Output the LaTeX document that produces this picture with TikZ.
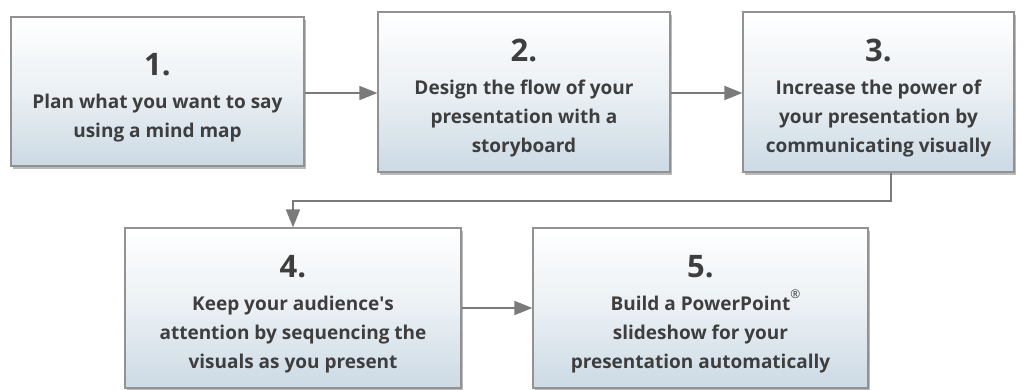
\documentclass[tikz,border=0pt]{standalone}
\usepackage{fontspec}
\setmainfont{Open Sans}
\usetikzlibrary{shadows,arrows.meta,positioning}
\definecolor{boxline}{HTML}{929292}
\definecolor{boxbot}{HTML}{CCDAE4}
\definecolor{txt}{HTML}{3E3E3E}
\definecolor{arr}{HTML}{7A7A7A}
\tikzset{
  stepbox/.style={draw=boxline, line width=1.2pt, rectangle, inner sep=0pt,
    top color=white, bottom color=boxbot, middle color=white!60!boxbot,
    drop shadow={shadow xshift=2pt, shadow yshift=-3pt, fill=black!45, opacity=0.6},
    align=center, text=txt, font=\bfseries\fontsize{19}{29}\selectfont},
  conn/.style={draw=arr, line width=1.6pt, -{Triangle[length=18pt,width=14pt]}}
}
\newcommand{\nm}[1]{{\fontsize{31}{32}\selectfont\rule{0pt}{34pt}#1}\\[4pt]}
\begin{document}
\begin{tikzpicture}[x=1pt,y=-1pt]
\useasboundingbox (0,0) rectangle (1029,390);
\node[stepbox, minimum width=293pt, minimum height=149pt] (b1) at (157.5,91.5) {\nm{1.}Plan what you want to say\\using a mind map};
\node[stepbox, minimum width=292pt, minimum height=160pt] (b2) at (524,92) {\nm{2.}Design the flow of your\\presentation with a\\storyboard};
\node[stepbox, minimum width=271pt, minimum height=160pt] (b3) at (878.5,92) {\nm{3.}Increase the power of\\your presentation by\\communicating visually};
\node[stepbox, minimum width=336pt, minimum height=160pt] (b4) at (293,308) {\nm{4.}Keep your audience\textquotesingle s\\attention by sequencing the\\visuals as you present};
\node[stepbox, minimum width=335pt, minimum height=160pt] (b5) at (700.5,308) {\nm{5.}Build a PowerPoint\rlap{\raisebox{12pt}{\fontsize{12}{12}\mdseries\textregistered}}\\slideshow for your\\presentation automatically};
\coordinate (c1) at (891,201);
\coordinate (c2) at (293,201);
\draw[conn] (b1.east |- 0,93) -- (b2.west |- 0,93);
\draw[conn] (b2.east |- 0,93) -- (b3.west |- 0,93);
\draw[conn] (b3.south -| c1) -- (c1) -- (c2) -- (b4.north);
\draw[conn] (b4.east) -- (b5.west);
\end{tikzpicture}
\end{document}
